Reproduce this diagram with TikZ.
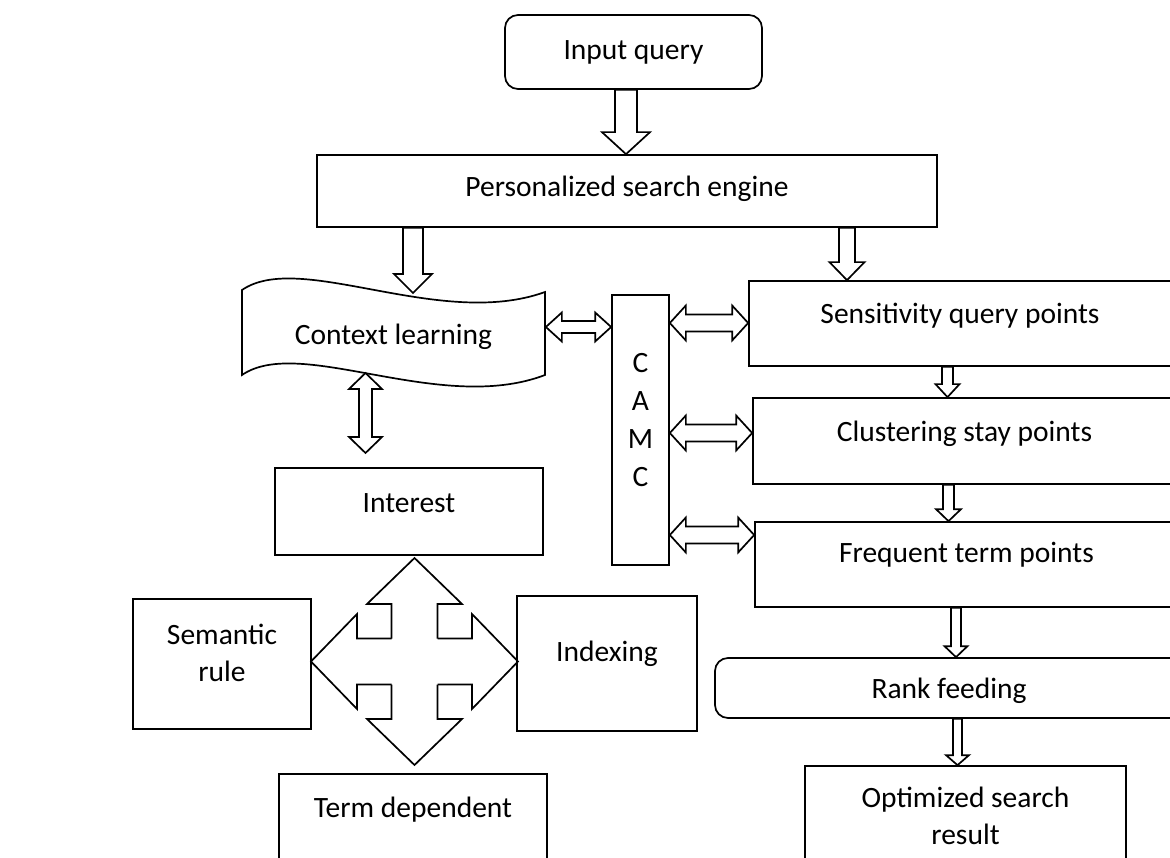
\documentclass[tikz,border=0pt]{standalone}
\usepackage{fontspec}
\setmainfont{Carlito}
\usetikzlibrary{calc}

\tikzset{
  flowbox/.style={draw, line width=1.7pt, inner sep=0pt, text height=20pt, text depth=6pt, font=\fontsize{29.5}{37}\selectfont},
  roundbox/.style={flowbox, rounded corners=13pt},
  blockline/.style={line width=1.7pt, line join=miter},
}

% block arrow pointing down: #1 top, #2 tip, #3 half shaft, #4 half head, #5 head length
\newcommand{\blockdown}[5]{%
  \draw[blockline] let \p1=#1, \p2=#2 in
    (\x1-#3pt,\y1) -- (\x1+#3pt,\y1) -- (\x1+#3pt,\y2+#5pt) -- (\x1+#4pt,\y2+#5pt)
    -- (\x1,\y2) -- (\x1-#4pt,\y2+#5pt) -- (\x1-#3pt,\y2+#5pt) -- cycle;}
% block arrow with two heads, left-right
\newcommand{\blockboth}[5]{%
  \draw[blockline] let \p1=#1, \p2=#2 in
    (\x1,\y1) -- (\x1+#5pt,\y1+#4pt) -- (\x1+#5pt,\y1+#3pt) -- (\x2-#5pt,\y1+#3pt)
    -- (\x2-#5pt,\y1+#4pt) -- (\x2,\y1) -- (\x2-#5pt,\y1-#4pt) -- (\x2-#5pt,\y1-#3pt)
    -- (\x1+#5pt,\y1-#3pt) -- (\x1+#5pt,\y1-#4pt) -- cycle;}
% block arrow with two heads, up-down
\newcommand{\blockupdown}[5]{%
  \draw[blockline] let \p1=#1, \p2=#2 in
    (\x1,\y1) -- (\x1+#4pt,\y1-#5pt) -- (\x1+#3pt,\y1-#5pt) -- (\x1+#3pt,\y2+#5pt)
    -- (\x1+#4pt,\y2+#5pt) -- (\x1,\y2) -- (\x1-#4pt,\y2+#5pt) -- (\x1-#3pt,\y2+#5pt)
    -- (\x1-#3pt,\y1-#5pt) -- (\x1-#4pt,\y1-#5pt) -- cycle;}

\begin{document}
\begin{tikzpicture}[x=1pt,y=-1pt]
\useasboundingbox (0,0) rectangle (1170,858);

%Shape: Rounded Rect
\node[roundbox, minimum width=257pt, minimum height=74pt, text depth=4pt] (inq) at (633.5,52) {Input query};
%Shape: Rectangle
\node[flowbox, minimum width=620pt, minimum height=72pt, text depth=8pt] (pse) at (627,191) {Personalized search engine};

%Shape: Wave
\draw[blockline] (242,290) .. controls (300,250) and (440,330) .. (545,292) -- (545,375)
  .. controls (440,415) and (300,335) .. (242,375) -- cycle;
\node[flowbox, draw=none, minimum width=303pt, minimum height=85pt, text depth=2pt] (ctx) at (393.5,336) {Context learning};

%Shape: Rectangle
\node[flowbox, minimum width=57pt, minimum height=270pt, text width=57pt, align=flush center,
  font=\fontsize{29.5}{38}\selectfont, text depth=135pt] (camc) at (640.5,430) {C\\A\\M\\C};

%Shape: Rectangle
\node[flowbox, minimum width=422pt, minimum height=85pt, text depth=19pt] (sens) at (960,323.5) {Sensitivity query points};
\node[flowbox, minimum width=423pt, minimum height=86pt, text depth=20pt] (clus) at (964.5,441) {Clustering stay points};
\node[flowbox, minimum width=423pt, minimum height=85pt, text depth=25pt] (freq) at (966.5,564.5) {Frequent term points};
%Shape: Rounded Rect
\node[roundbox, minimum width=468pt, minimum height=60pt, text depth=0pt] (rank) at (949,688) {Rank feeding};
%Shape: Rectangle
\node[flowbox, minimum width=321pt, minimum height=100pt, text width=321pt, align=flush center, text depth=38pt] (opt) at (965.5,816) {Optimized search\\result};

%Shape: Rectangle
\node[flowbox, minimum width=268pt, minimum height=87pt, text depth=19pt] (intr) at (409,511.5) {Interest};
\node[flowbox, minimum width=178pt, minimum height=130pt, text width=178pt, align=flush center, text depth=60pt] (sem) at (222,664) {Semantic\\rule};
\node[flowbox, minimum width=180pt, minimum height=135pt, text depth=25pt] (idx) at (607,663.5) {Indexing};
\node[flowbox, minimum width=268pt, minimum height=87pt, text depth=21pt] (term) at (413,817.5) {Term dependent};

\coordinate (ctxtop) at (413,293);
\coordinate (ctxbot) at (365.5,373);
\coordinate (intop) at (365.5,453);
\coordinate (hub) at (414.5,661.5);

%Block Arrows
\blockdown{(626,0 |- inq.south)}{(626,0 |- pse.north)}{11}{24}{22}
\blockdown{(413,0 |- pse.south)}{(ctxtop)}{10}{19}{19}
\blockdown{(847,0 |- pse.south)}{(847,0 |- sens.north)}{8}{17.5}{18}
\blockdown{(947.5,0 |- sens.south)}{(947.5,0 |- clus.north)}{5.5}{12}{13}
\blockdown{(948.5,0 |- clus.south)}{(948.5,0 |- freq.north)}{5.5}{12.5}{12}
\blockdown{(956,0 |- freq.south)}{(956,0 |- rank.north)}{5}{11.5}{11}
\blockdown{(957.5,0 |- rank.south)}{(957.5,0 |- opt.north)}{4.5}{11.5}{10}

\blockboth{(ctx.east |- 0,327)}{(camc.west |- 0,327)}{6}{14.5}{16}
\blockboth{(camc.east |- 0,323)}{(sens.west |- 0,323)}{8.5}{17.5}{16}
\blockboth{(camc.east |- 0,433)}{(clus.west |- 0,433)}{8.5}{17.5}{16}
\blockboth{(camc.east |- 0,535)}{(freq.west |- 0,535)}{8.5}{17.5}{16}

\blockupdown{(ctxbot)}{(intop)}{6.5}{16.5}{16}

%Shape: Quad Arrow
\foreach \ang in {0,90,180,270}
  \draw[blockline, line cap=square, shift={(hub)}, rotate=\ang]
    (-23,-23) -- (-23,-57.5) -- (-47.5,-57.5) -- (0,-103.5) -- (47.5,-57.5) -- (23,-57.5) -- (23,-23);

\end{tikzpicture}
\end{document}
